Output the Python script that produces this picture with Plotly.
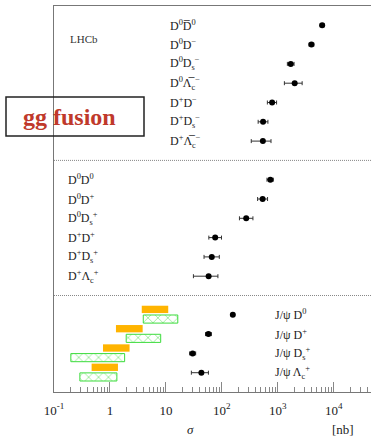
import plotly.graph_objects as go

# ---------------- data ----------------
labels_os = ["D<sup>0</sup>D̅<sup>0</sup>", "D<sup>0</sup>D<sup>−</sup>", "D<sup>0</sup>D<sub>s</sub><sup>−</sup>",
             "D<sup>0</sup>Λ̅<sub>c</sub><sup>−</sup>", "D<sup>+</sup>D<sup>−</sup>", "D<sup>+</sup>D<sub>s</sub><sup>−</sup>",
             "D<sup>+</sup>Λ̅<sub>c</sub><sup>−</sup>"]
sigma_os = [6200, 3990, 1700, 2000, 790, 545, 540]
lo_os = [5700, 3600, 1480, 1310, 650, 445, 335]
hi_os = [6700, 4400, 1950, 2720, 950, 665, 755]

labels_ss = ["D<sup>0</sup>D<sup>0</sup>", "D<sup>0</sup>D<sup>+</sup>", "D<sup>0</sup>D<sub>s</sub><sup>+</sup>",
             "D<sup>+</sup>D<sup>+</sup>", "D<sup>+</sup>D<sub>s</sub><sup>+</sup>", "D<sup>+</sup>Λ<sub>c</sub><sup>+</sup>"]
sigma_ss = [735, 535, 272, 76, 66, 58]
lo_ss = [640, 435, 206, 58.5, 48, 31]
hi_ss = [830, 655, 359, 98.5, 90, 85]

labels_jp = ["J/ψ D<sup>0</sup>", "J/ψ D<sup>+</sup>", "J/ψ D<sub>s</sub><sup>+</sup>", "J/ψ Λ<sub>c</sub><sup>+</sup>"]
sigma_jp = [157, 57.5, 30, 43]
lo_jp = [148, 51, 26.5, 28.5]
hi_jp = [167, 65, 34, 57.5]

theory_a_lo = [3.7, 1.28, 0.75, 0.47]
theory_a_hi = [11.0, 3.84, 2.24, 1.39]
theory_b_lo = [3.94, 1.95, 0.20, 0.29]
theory_b_hi = [16.3, 8.07, 1.83, 1.33]

xtick_vals = [0.1, 1, 10, 100, 1000, 10000]
xtick_text = ["10<sup>-1</sup>", "1", "10", "10<sup>2</sup>", "10<sup>3</sup>", "10<sup>4</sup>"]

# row positions
rows_os = [1, 2, 3, 4, 5, 6, 7]
rows_ss = [9, 10, 11, 12, 13, 14]
rows_jp = [16, 17, 18, 19]
separators = [8, 15]

SERIF = "Liberation Serif, 'Times New Roman', 'DejaVu Serif', serif"
fig = go.Figure()

# theory bands
fig.add_trace(go.Bar(
    orientation="h", y=[r - 0.28 for r in rows_jp], base=theory_a_lo,
    x=[h - l for h, l in zip(theory_a_hi, theory_a_lo)], width=0.38,
    marker=dict(color="#ffb400", line=dict(width=0)), showlegend=False, hoverinfo="skip"))
fig.add_trace(go.Bar(
    orientation="h", y=[r + 0.22 for r in rows_jp], base=theory_b_lo,
    x=[h - l for h, l in zip(theory_b_hi, theory_b_lo)], width=0.42,
    marker=dict(color="white", line=dict(color="#3cdc3c", width=1),
                pattern=dict(shape="x", fgcolor="#3cdc3c", bgcolor="white", size=7, solidity=0.25)),
    showlegend=False, hoverinfo="skip"))

def add_points(sig, lo, hi, rows):
    fig.add_trace(go.Scatter(
        x=sig, y=rows, mode="markers",
        marker=dict(color="black", size=6),
        error_x=dict(type="data", symmetric=False,
                     array=[h - s for h, s in zip(hi, sig)],
                     arrayminus=[s - l for s, l in zip(sig, lo)],
                     color="#333", thickness=1, width=2),
        showlegend=False))

add_points(sigma_os, lo_os, hi_os, rows_os)
add_points(sigma_ss, lo_ss, hi_ss, rows_ss)
add_points(sigma_jp, lo_jp, hi_jp, rows_jp)

LBL = dict(family=SERIF, size=12, color="#222")
ann = []
for lab, r in zip(labels_os, rows_os):
    ann.append(dict(x=0.36, xref="paper", y=r, yref="y", text=lab, showarrow=False,
                    xanchor="left", yanchor="middle", font=LBL))
for lab, r in zip(labels_ss, rows_ss):
    ann.append(dict(x=0.038, xref="paper", y=r, yref="y", text=lab, showarrow=False,
                    xanchor="left", yanchor="middle", font=LBL))
for lab, r in zip(labels_jp, rows_jp):
    ann.append(dict(x=0.69, xref="paper", y=r, yref="y", text=lab, showarrow=False,
                    xanchor="left", yanchor="middle", font=LBL))
ann.append(dict(x=0.044, xref="paper", y=1.71, yref="y", text="LHCb", showarrow=False,
                xanchor="left", yanchor="middle", font=dict(family=SERIF, size=11, color="#333")))
ann.append(dict(x=(190 - 54) / 317, xref="paper", y=(392 - 430) / 386, yref="paper", text="<i>σ</i>",
                showarrow=False, xanchor="center", yanchor="middle", font=dict(family=SERIF, size=13, color="#222")))
ann.append(dict(x=(343 - 54) / 317, xref="paper", y=(392 - 430) / 386, yref="paper", text="[nb]",
                showarrow=False, xanchor="center", yanchor="middle", font=dict(family=SERIF, size=13, color="#222")))
ann.append(dict(x=(21 - 54) / 317, xref="paper", y=(392 - 116.5) / 386, yref="paper", text="<b>gg fusion</b>",
                showarrow=False, xanchor="left", yanchor="middle", font=dict(family=SERIF, size=24, color="#c0392b")))

shapes = []
for s in separators:
    shapes.append(dict(type="line", xref="paper", yref="y", x0=0, x1=1, y0=s, y1=s,
                       line=dict(color="#888", width=1, dash="1px,1px")))
shapes.append(dict(type="rect", xref="paper", yref="paper",
                   x0=(6 - 54) / 317, x1=(144 - 54) / 317, y0=(392 - 136) / 386, y1=(392 - 97) / 386,
                   line=dict(color="#222", width=1.5), fillcolor="rgba(0,0,0,0)"))

minor_vals = [m * 10 ** e for e in range(-1, 5) for m in range(2, 10)]

fig.update_layout(
    width=371, height=441, margin=dict(l=54, r=0, t=6, b=49),
    paper_bgcolor="white", plot_bgcolor="white", barmode="overlay",
    annotations=ann, shapes=shapes,
    xaxis=dict(type="log", range=[-1, 4.665], showgrid=False, zeroline=False,
               showline=True, mirror=True, linecolor="#777", linewidth=1.2,
               tickvals=xtick_vals, ticktext=xtick_text, ticks="inside", ticklen=10,
               tickcolor="#888", tickwidth=1, ticklabelstandoff=6,
               minor=dict(tickvals=minor_vals, ticks="inside", ticklen=5, tickcolor="#888", showgrid=False),
               tickfont=dict(family=SERIF, size=13, color="#222")),
    yaxis=dict(range=[20, 0], showgrid=False, zeroline=False, showticklabels=False,
               showline=True, mirror=False, linecolor="#777", linewidth=1.2, ticks=""),
)

fig.write_html("out.html")
